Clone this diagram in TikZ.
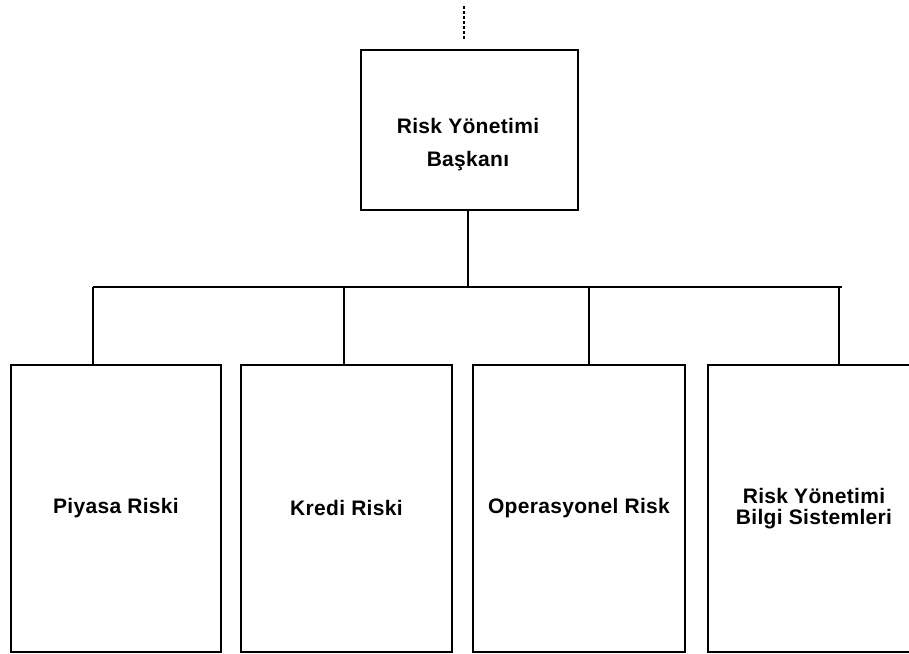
\documentclass[tikz,border=0pt]{standalone}
\usepackage{fontspec}
\setmainfont{Liberation Sans}
\begin{document}
\begin{tikzpicture}[x=1pt,y=-1pt,
  unit/.style={draw, line width=1.9pt, inner sep=0pt, anchor=north west},
  lbl/.style={font=\fontsize{21}{23}\selectfont\bfseries\addfontfeatures{LetterSpace=1.5}, align=center},
  wire/.style={line width=1.5pt}]
\useasboundingbox (0,0) rectangle (909,653);
\clip (0,0) rectangle (909,653);
\fill[white] (0,0) rectangle (909,653);

% head of the unit
\node[unit, minimum width=217pt, minimum height=160pt] (head) at (360,49) {};
\node[lbl] (headtxt) at (468,145) {Risk Yönetimi\\[10pt]Başkanı};

% departments
\node[unit, minimum width=210pt, minimum height=287pt] (b1) at (10,364) {};
\node[unit, minimum width=211pt, minimum height=287pt] (b2) at (240,364) {};
\node[unit, minimum width=212pt, minimum height=287pt] (b3) at (472,364) {};
\node[unit, minimum width=212pt, minimum height=287pt] (b4) at (707,364) {};
\node[lbl] (t1) at (b1.center) {Piyasa Riski};
\node[lbl] (t2) at (b2.center) {Kredi Riski};
\node[lbl] (t3) at (b3.center) {Operasyonel Risk};
\node[lbl] (t4) at (b4.center) {Risk Yönetimi\\[-2pt]Bilgi Sistemleri};

% reporting line from above
\coordinate (up) at (464,6);
\coordinate (upend) at (464,40);
\draw[line width=1.4pt, dash pattern=on 2.5pt off 2.5pt] (up) -- (upend);

% bus and drops
\coordinate (bus) at (468,287);
\coordinate (busL) at (93,287);
\coordinate (busR) at (842,287);
\coordinate (d1) at (93,287);
\coordinate (d2) at (344,287);
\coordinate (d3) at (589,287);
\coordinate (d4) at (839,287);
\draw[wire] (head.south -| bus) -- (bus);
\draw[wire] (busL) -- (busR);
\draw[wire] (d1) -- (d1 |- b1.north);
\draw[wire] (d2) -- (d2 |- b2.north);
\draw[wire] (d3) -- (d3 |- b3.north);
\draw[wire] (d4) -- (d4 |- b4.north);
\end{tikzpicture}
\end{document}
